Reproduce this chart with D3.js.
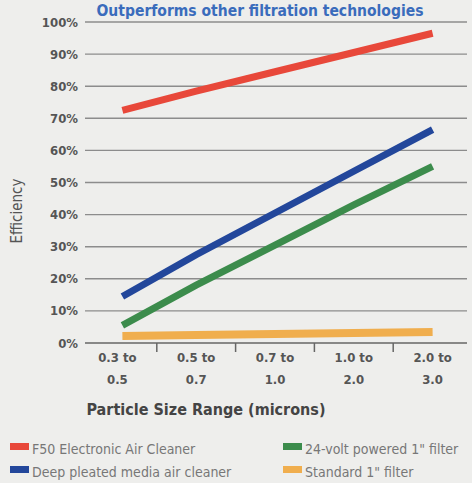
<!DOCTYPE html>
<html><head><meta charset="utf-8">
<script src="https://cdn.jsdelivr.net/npm/d3@7"></script>
<style>
html,body{margin:0;padding:0;background:#eeeeec;}
svg{display:block;}
text{font-stretch:condensed;}
</style></head>
<body>
<svg id="c" width="472" height="483"></svg>
<script>
const categories = [["0.3 to","0.5"],["0.5 to","0.7"],["0.7 to","1.0"],["1.0 to","2.0"],["2.0 to","3.0"]];
const yTicks = [0,10,20,30,40,50,60,70,80,90,100];
const seriesNames = ["F50 Electronic Air Cleaner","Deep pleated media air cleaner","24-volt powered 1\" filter","Standard 1\" filter"];
const f50 = [72.5, 78.5, 84.5, 90.5, 96.5];
const deepPleated = [14.5, 27.5, 40.5, 53.5, 66.5];
const volt24 = [5.5, 18, 30.5, 43, 55];
const standard = [2.2, 2.5, 2.8, 3.1, 3.4];
const colors = ["#e8483a","#23479b","#3c8c4c","#f0ae4e"];

const svg = d3.select("#c");
const font = "'DejaVu Sans Condensed','DejaVu Sans',sans-serif";
const x = d3.scaleBand().domain(d3.range(categories.length)).range([78, 472]);
const y = d3.scaleLinear().domain([0,100]).range([343, 22]);

// title
svg.append("text").attr("x", 260).attr("y", 15.5).attr("text-anchor","middle")
  .attr("font-family",font).attr("font-weight","bold")
  .attr("font-size",15.5).attr("fill","#3a6cbc").text("Outperforms other filtration technologies");

// gridlines
svg.append("g").selectAll("line").data(yTicks).join("line")
  .attr("x1",85).attr("x2",467).attr("y1",d=>y(d)).attr("y2",d=>y(d))
  .attr("stroke",d=>d===0?"#666":"#8c8c8c").attr("stroke-width",d=>d===0?1.6:1.4);

// y labels
svg.append("g").selectAll("text").data(yTicks).join("text")
  .attr("x",78).attr("y",d=>y(d)+4.5).attr("text-anchor","end")
  .attr("font-family",font).attr("font-weight","bold").attr("font-size",13).attr("fill","#555")
  .text(d=>d+"%");

// y title
svg.append("text").attr("transform","translate(22,211) rotate(-90)").attr("text-anchor","middle")
  .attr("font-family",font).attr("font-size",15).attr("fill","#555").text("Efficiency");

// x ticks at boundaries
svg.append("g").selectAll("line").data(d3.range(1,categories.length)).join("line")
  .attr("x1",d=>x(d)).attr("x2",d=>x(d)).attr("y1",343).attr("y2",352)
  .attr("stroke","#666").attr("stroke-width",1.5);

// x labels
const xl = svg.append("g").selectAll("text").data(categories).join("text")
  .attr("text-anchor","middle").attr("font-family",font).attr("font-weight","bold")
  .attr("font-size",13).attr("fill","#555");
xl.append("tspan").attr("x",(d,i)=>x(i)+x.bandwidth()/2).attr("y",362).text(d=>d[0]);
xl.append("tspan").attr("x",(d,i)=>x(i)+x.bandwidth()/2).attr("y",384).text(d=>d[1]);

svg.append("text").attr("x",206).attr("y",415).attr("text-anchor","middle")
  .attr("font-family",font).attr("font-weight","bold").attr("font-size",16).attr("fill","#444")
  .text("Particle Size Range (microns)");

// lines
const allSeries = [f50, deepPleated, volt24, standard];
const line = d3.line().x((d,i)=>x(i)+x.bandwidth()/2 + (i===0?5:0)).y(d=>y(d));
[3,2,1,0].forEach(k=>{
  svg.append("path").datum(allSeries[k]).attr("d",line).attr("fill","none")
    .attr("stroke",colors[k]).attr("stroke-width",k===3?8:7);
});

// legend
const legPos = [[10,449],[10,472],[283,449],[283,472]];
const lg = svg.append("g").selectAll("g").data(seriesNames).join("g")
  .attr("transform",(d,i)=>`translate(${legPos[i][0]},${legPos[i][1]})`);
lg.append("rect").attr("x",0).attr("y",-6).attr("width",19).attr("height",7).attr("fill",(d,i)=>colors[i]);
lg.append("text").attr("x",22).attr("y",4.5).attr("font-family",font).attr("font-size",14)
  .attr("fill","#777").text(d=>d);
</script>
</body></html>
